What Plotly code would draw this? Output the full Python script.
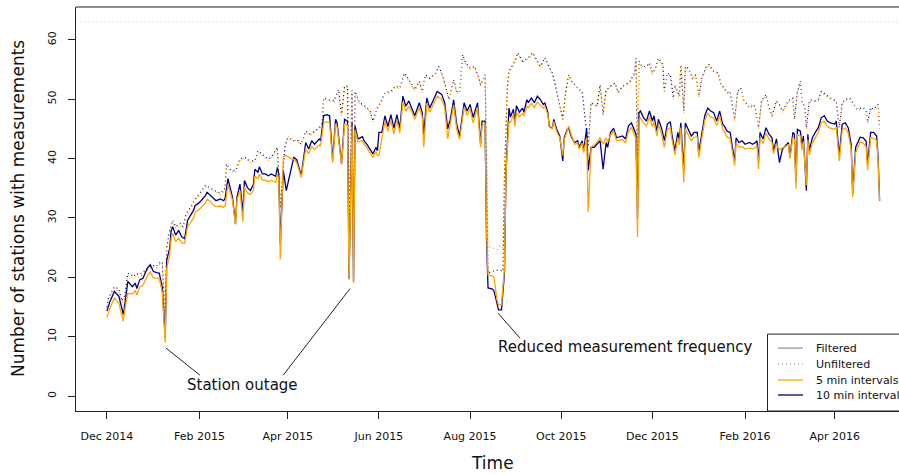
import pandas as pd
import plotly.graph_objects as go

# ---------------- data ----------------
start_date = "2014-12-01"

# day offsets (from 1 Dec 2014) for the filtered series
days_filtered = [
    0, 2, 5, 8, 11, 12, 14, 17, 19, 20, 22, 24, 27, 29, 31, 33, 35, 37, 39, 40,
    41, 42, 43, 44, 46, 48, 50, 52, 54, 56, 58, 59, 61, 63, 66, 67, 69, 71, 73, 76,
    78, 79, 81, 82, 84, 86, 87, 89, 91, 92, 94, 96, 98, 99, 100, 101, 102, 104, 106, 108,
    110, 113, 114, 115, 116, 118, 120, 123, 125, 127, 130, 133, 135, 137, 139, 142, 143, 145, 147, 149,
    151, 153, 154, 157, 159, 161, 162, 164, 165, 166, 168, 171, 172, 174, 176, 178, 180, 181, 182, 184,
    186, 188, 190, 192, 194, 196, 198, 200, 202, 204, 206, 209, 211, 212, 214, 216, 218, 221, 224, 226,
    228, 230, 232, 234, 236, 239, 241, 243, 245, 248, 250, 251, 253, 254, 255, 258, 259, 261, 262, 264,
    266, 267, 269, 270, 272, 273, 274, 276, 278, 279, 281, 282, 284, 286, 288, 290, 292, 293, 295, 296,
    298, 299, 301, 303, 305, 306, 308, 309, 311, 313, 315, 316, 318, 319, 321, 322, 324, 326, 328, 330,
    332, 334, 335, 337, 339, 341, 345, 347, 349, 351, 354, 355, 356, 357, 359, 361, 363, 365, 366, 368,
    369, 371, 373, 375, 377, 378, 380, 382, 383, 384, 386, 387, 389, 391, 393, 395, 396, 398, 400, 402,
    404, 406, 408, 410, 412, 413, 415, 417, 420, 421, 423, 425, 427, 430, 432, 434, 435, 436, 437, 439,
    441, 443, 445, 446, 448, 449, 450, 452, 454, 456, 457, 459, 460, 461, 462, 464, 465, 466, 468, 469,
    470, 472, 474, 476, 478, 480, 482, 484, 487, 488, 490, 492, 494, 496, 498, 499, 501, 504, 506, 508,
    509, 511, 513, 515, 516, 517,
]

# filtered, 10 min intervals (navy)
filtered_10min = [
    14.3, 15.9, 17.6, 16.8, 13.7, 15.9, 19.3, 18.4, 19.0, 18.1, 19.6, 19.8, 21.5, 22.1, 21.0, 20.8, 20.7, 18.4, 9.8, 22.9,
    24.0, 24.9, 27.9, 28.5, 27.1, 27.9, 26.8, 26.5, 29.6, 30.4, 31.3, 32.1, 32.4, 32.9, 33.8, 34.3, 33.8, 33.3, 32.9, 33.2,
    32.9, 33.2, 36.6, 35.5, 33.5, 29.0, 33.5, 35.7, 31.0, 36.3, 35.1, 34.6, 35.6, 38.2, 38.0, 37.7, 38.6, 37.4, 37.4, 37.1,
    37.4, 37.0, 38.5, 37.4, 25.5, 38.0, 34.6, 38.0, 40.2, 39.8, 37.1, 42.7, 41.6, 43.0, 42.4, 43.3, 43.0, 47.2, 47.4, 47.2,
    39.8, 46.6, 46.0, 39.1, 46.6, 46.3, 19.8, 46.0, 19.3, 45.5, 43.3, 43.7, 43.0, 42.4, 41.6, 40.8, 41.9, 41.3, 44.4, 44.4,
    47.2, 45.4, 47.4, 45.1, 47.4, 45.1, 50.5, 48.8, 49.7, 48.6, 47.2, 49.4, 47.7, 44.0, 50.2, 48.5, 49.7, 51.3, 50.8, 49.4,
    45.0, 46.9, 49.9, 45.8, 43.8, 49.4, 48.0, 49.1, 46.9, 49.4, 42.5, 46.3, 46.3, 26.3, 18.2, 18.0, 17.7, 15.7, 14.5, 14.5,
    20.7, 37.5, 48.5, 47.0, 48.3, 46.0, 48.9, 47.8, 48.5, 47.8, 49.9, 49.4, 50.2, 49.4, 50.5, 49.9, 49.1, 49.4, 47.8, 45.4,
    45.1, 46.6, 44.9, 43.8, 39.6, 43.5, 44.9, 45.1, 43.5, 42.7, 43.0, 41.9, 43.0, 41.3, 45.1, 38.0, 41.9, 41.9, 42.4, 43.0,
    38.2, 42.7, 41.9, 44.4, 45.1, 43.5, 43.8, 43.3, 45.5, 46.0, 44.1, 30.0, 47.7, 48.0, 46.9, 46.3, 48.0, 46.3, 47.2, 44.6,
    46.6, 45.2, 43.0, 45.8, 46.2, 44.1, 41.3, 44.4, 43.0, 46.0, 38.0, 46.0, 44.9, 43.8, 44.4, 44.4, 41.0, 43.8, 47.2, 48.5,
    48.0, 47.7, 46.3, 48.0, 45.8, 45.5, 44.6, 44.4, 39.5, 43.5, 42.7, 43.0, 42.4, 42.7, 42.4, 42.7, 43.0, 39.5, 44.4, 43.3,
    45.2, 44.1, 43.5, 41.3, 43.3, 41.3, 39.3, 41.6, 42.2, 42.7, 40.2, 44.4, 44.1, 36.0, 44.9, 44.6, 42.1, 43.8, 34.6, 44.1,
    41.3, 43.5, 44.4, 45.2, 46.9, 47.2, 46.3, 46.0, 45.8, 46.3, 40.5, 45.8, 46.0, 45.2, 42.4, 34.0, 41.9, 43.6, 43.5, 42.9,
    39.0, 44.4, 44.4, 43.8, 40.2, 32.9,
]

# filtered, 5 min intervals (orange)
filtered_5min = [
    13.2, 14.8, 16.5, 15.6, 12.6, 14.6, 17.3, 17.2, 17.8, 17.0, 18.4, 18.6, 20.2, 20.9, 19.9, 19.8, 19.8, 17.5, 9.0, 21.5,
    23.0, 23.8, 26.6, 27.4, 26.0, 26.6, 25.8, 25.7, 28.6, 29.2, 30.0, 31.0, 31.3, 31.7, 32.6, 33.1, 32.8, 32.2, 31.9, 32.0,
    31.8, 32.0, 35.6, 34.6, 33.0, 28.9, 33.0, 34.6, 29.3, 35.2, 34.2, 34.0, 34.6, 37.0, 36.8, 36.6, 37.4, 36.4, 36.3, 36.1,
    36.3, 36.0, 37.4, 36.6, 23.0, 40.3, 40.5, 40.0, 39.9, 39.3, 36.8, 41.6, 40.8, 42.0, 41.5, 42.3, 42.1, 46.0, 46.2, 46.0,
    39.3, 45.8, 45.3, 39.0, 45.8, 45.6, 19.6, 45.5, 19.1, 44.8, 42.8, 43.0, 42.4, 41.8, 41.0, 40.2, 41.2, 40.5, 40.5, 43.4,
    46.3, 44.6, 46.5, 44.1, 46.4, 44.3, 49.5, 48.0, 48.8, 47.8, 46.6, 48.6, 47.0, 41.9, 49.3, 47.8, 49.0, 50.5, 50.0, 48.6,
    43.3, 46.0, 49.0, 45.0, 43.2, 48.6, 47.3, 48.4, 46.0, 48.6, 41.9, 45.5, 46.0, 28.0, 20.4, 20.2, 20.0, 16.2, 15.4, 15.4,
    21.5, 37.5, 46.3, 46.0, 47.5, 45.4, 47.8, 47.0, 47.6, 47.2, 48.8, 48.6, 49.3, 48.6, 49.5, 49.0, 48.5, 48.8, 47.4, 45.3,
    45.0, 46.2, 44.5, 43.5, 40.5, 43.2, 44.9, 45.5, 43.8, 42.4, 42.6, 41.6, 42.6, 41.0, 43.5, 31.0, 42.0, 42.2, 42.8, 43.5,
    42.4, 43.5, 42.8, 44.0, 44.6, 43.0, 43.2, 42.6, 44.6, 45.2, 43.3, 26.8, 46.5, 46.8, 46.0, 45.5, 47.0, 45.4, 46.2, 43.8,
    45.7, 44.3, 41.9, 44.9, 45.2, 43.3, 40.6, 43.5, 42.3, 45.2, 36.0, 45.0, 44.0, 43.0, 43.6, 43.6, 40.2, 43.0, 46.4, 47.6,
    47.0, 46.8, 45.5, 47.2, 45.0, 44.6, 43.6, 43.4, 38.8, 42.6, 41.9, 42.0, 41.6, 41.8, 41.6, 41.8, 42.2, 38.2, 43.5, 42.5,
    44.3, 43.3, 42.7, 40.8, 42.5, 41.8, 41.5, 41.8, 42.0, 42.4, 40.0, 43.6, 43.2, 34.9, 44.0, 43.8, 41.4, 42.9, 35.5, 43.2,
    40.6, 42.6, 43.5, 44.4, 46.0, 46.3, 45.4, 45.1, 44.9, 45.3, 39.6, 44.8, 45.1, 44.3, 41.5, 33.5, 41.0, 42.8, 42.6, 42.0,
    38.0, 43.5, 43.4, 43.0, 39.5, 32.9,
]

# day offsets for the unfiltered series
days_unfiltered = [
    0, 1, 5, 8, 10, 12, 14, 18, 19, 22, 27, 30, 33, 35, 37, 39, 40, 42, 44, 46,
    49, 51, 53, 56, 59, 62, 66, 69, 72, 76, 79, 80, 82, 86, 89, 92, 96, 99, 101, 105,
    108, 110, 114, 116, 119, 121, 125, 128, 130, 133, 136, 139, 142, 144, 145, 148, 152, 155, 157, 159,
    161, 162, 164, 165, 166, 169, 173, 176, 178, 181, 183, 186, 190, 193, 196, 199, 202, 204, 206, 209,
    211, 213, 216, 220, 222, 224, 226, 229, 232, 234, 236, 238, 240, 243, 246, 249, 250, 253, 254, 255,
    258, 261, 263, 265, 266, 268, 269, 271, 273, 275, 278, 280, 282, 285, 288, 290, 293, 296, 298, 300,
    302, 305, 307, 309, 311, 313, 316, 318, 320, 322, 324, 326, 328, 330, 332, 334, 336, 338, 340, 342,
    345, 347, 350, 353, 354, 355, 356, 358, 361, 363, 365, 367, 369, 372, 373, 375, 377, 379, 380, 383,
    384, 386, 387, 389, 392, 394, 396, 398, 401, 403, 406, 409, 411, 413, 415, 417, 420, 422, 424, 426,
    430, 433, 434, 436, 438, 441, 443, 445, 448, 450, 452, 454, 456, 459, 460, 462, 464, 465, 467, 468,
    470, 472, 474, 476, 478, 481, 484, 488, 490, 492, 494, 497, 499, 502, 506, 508, 509, 511, 513, 516,
    517,
]

# unfiltered, 10 min intervals (navy, dotted)
unfiltered_10min = [
    15.0, 16.5, 18.4, 18.0, 16.0, 17.0, 20.7, 20.1, 20.6, 20.4, 21.5, 22.1, 21.8, 22.4, 22.6, 13.0, 25.1, 27.9, 29.6, 28.5,
    29.1, 28.5, 30.7, 31.8, 33.2, 34.1, 35.5, 35.0, 34.6, 34.1, 35.0, 39.1, 38.2, 37.9, 39.9, 40.2, 39.6, 39.6, 41.3, 40.5,
    39.9, 40.2, 41.9, 32.0, 41.9, 43.5, 43.0, 43.0, 42.4, 44.6, 44.1, 44.6, 45.2, 46.0, 50.2, 49.9, 49.7, 51.6, 47.5, 52.2,
    52.2, 30.0, 51.5, 25.0, 51.3, 49.4, 48.8, 48.0, 46.3, 48.6, 49.4, 51.1, 51.3, 52.2, 51.9, 54.4, 53.3, 52.5, 51.6, 53.0,
    51.3, 54.1, 53.5, 54.4, 55.5, 54.4, 52.7, 49.9, 53.3, 51.3, 51.1, 57.5, 56.1, 55.2, 55.5, 53.5, 52.4, 54.1, 40.0, 20.7,
    21.0, 21.2, 21.2, 21.0, 37.0, 52.4, 54.7, 55.5, 56.4, 57.8, 56.4, 56.7, 57.0, 57.8, 56.4, 55.5, 57.0, 55.5, 54.4, 52.4,
    50.2, 46.6, 51.3, 54.1, 53.0, 52.4, 51.6, 51.3, 46.9, 42.0, 49.4, 49.1, 48.8, 52.4, 47.4, 51.6, 51.9, 52.4, 52.7, 51.1,
    52.2, 52.4, 53.0, 54.4, 56.9, 40.2, 56.4, 55.5, 55.5, 56.1, 54.4, 55.2, 56.9, 55.8, 51.3, 54.4, 54.1, 50.2, 52.4, 50.5,
    55.8, 48.0, 55.5, 55.2, 53.5, 54.1, 50.5, 53.5, 55.5, 55.8, 54.7, 54.4, 52.4, 51.9, 51.1, 51.3, 46.6, 51.3, 51.9, 49.9,
    48.6, 49.1, 48.3, 45.2, 49.7, 50.8, 48.6, 47.2, 49.7, 49.1, 48.0, 48.9, 49.7, 50.2, 46.6, 51.3, 53.0, 49.7, 48.6, 45.2,
    49.7, 49.9, 49.7, 49.9, 51.3, 50.8, 50.2, 49.7, 45.2, 49.4, 49.9, 50.2, 49.4, 48.3, 48.6, 48.0, 46.1, 48.6, 48.3, 49.1,
    45.2,
]

# unfiltered, 5 min intervals (orange, dotted)
unfiltered_5min = [
    14.6, 16.2, 18.0, 17.6, 15.6, 16.7, 20.3, 19.8, 20.2, 20.0, 21.2, 21.9, 21.5, 22.1, 22.3, 12.5, 24.8, 27.6, 29.3, 28.2,
    28.8, 28.2, 30.4, 31.5, 33.0, 33.8, 35.2, 34.8, 34.3, 33.9, 34.7, 38.8, 38.0, 37.6, 39.6, 40.0, 39.3, 39.4, 41.0, 40.3,
    39.7, 40.0, 41.6, 31.5, 41.7, 43.7, 43.2, 42.8, 42.2, 44.4, 43.9, 44.4, 45.0, 45.8, 50.0, 49.7, 49.5, 51.4, 47.2, 52.0,
    52.0, 29.5, 51.3, 24.5, 51.1, 49.2, 48.6, 47.8, 46.1, 48.4, 49.2, 50.9, 51.1, 52.0, 51.7, 54.2, 53.1, 52.3, 51.4, 52.8,
    51.1, 53.9, 53.3, 54.2, 55.3, 54.2, 52.5, 49.7, 53.1, 51.1, 50.9, 57.3, 55.9, 55.0, 55.3, 53.3, 52.2, 53.9, 42.0, 25.1,
    25.0, 24.6, 25.4, 25.0, 38.0, 52.0, 54.5, 55.3, 56.2, 57.6, 56.2, 56.5, 56.8, 57.6, 56.2, 55.3, 56.8, 55.3, 54.2, 52.2,
    50.0, 46.4, 51.1, 54.1, 53.0, 52.4, 51.6, 51.3, 46.9, 41.5, 49.4, 49.1, 48.8, 52.4, 47.4, 51.6, 51.9, 52.4, 52.7, 51.1,
    52.0, 52.2, 52.8, 54.2, 56.7, 39.8, 56.2, 55.3, 55.3, 55.9, 54.2, 55.0, 56.7, 55.6, 51.1, 54.2, 53.9, 50.0, 52.2, 50.3,
    55.6, 47.6, 55.3, 55.0, 53.3, 53.9, 50.3, 53.3, 55.3, 55.6, 54.5, 54.2, 52.2, 51.7, 50.9, 51.1, 46.4, 51.1, 51.7, 49.7,
    48.4, 48.9, 48.1, 45.0, 49.5, 50.6, 48.4, 47.0, 49.5, 48.9, 47.8, 48.7, 49.5, 50.0, 46.4, 51.1, 52.8, 49.5, 48.4, 45.0,
    49.5, 49.7, 49.5, 49.7, 51.1, 50.6, 50.0, 49.5, 45.0, 49.2, 49.7, 50.0, 49.2, 48.1, 48.4, 47.8, 45.9, 48.4, 48.1, 48.9,
    45.0,
]

total_stations = 63

tick_dates = ["2014-12-01", "2015-02-01", "2015-04-01", "2015-06-01", "2015-08-01",
              "2015-10-01", "2015-12-01", "2016-02-01", "2016-04-01"]
tick_labels = ["Dec 2014", "Feb 2015", "Apr 2015", "Jun 2015", "Aug 2015",
               "Oct 2015", "Dec 2015", "Feb 2016", "Apr 2016"]
y_ticks = [0, 10, 20, 30, 40, 50, 60]

legend_labels = ["Filtered", "Unfiltered", "5 min intervals", "10 min intervals"]

# annotation anchors (day offset, value)
outage_text = (90.4, 1.85)
outage_lines = [((39.5, 8.07), (62.2, 3.53)), ((118.0, 3.53), (162.7, 18.1))]
reduced_text = (346.7, 8.24)
reduced_line = ((261.7, 13.96), (276.4, 9.76))

# ---------------- figure ----------------
t0 = pd.Timestamp(start_date)


def to_date(d):
    return t0 + pd.to_timedelta(d, unit="D")


x_f = [to_date(d) for d in days_filtered]
x_u = [to_date(d) for d in days_unfiltered]

ORANGE = "#FFA500"
NAVY = "#000080"
FONT = "DejaVu Sans"
DOTS = "1px,3px"

fig = go.Figure()
fig.add_trace(go.Scatter(x=x_u, y=unfiltered_10min, mode="lines",
                         line=dict(color=NAVY, width=1.2, dash=DOTS), showlegend=False))
fig.add_trace(go.Scatter(x=x_u, y=unfiltered_5min, mode="lines",
                         line=dict(color=ORANGE, width=1.2, dash=DOTS), showlegend=False))
fig.add_trace(go.Scatter(x=x_f, y=filtered_10min, mode="lines",
                         line=dict(color=NAVY, width=1.3), showlegend=False))
fig.add_trace(go.Scatter(x=x_f, y=filtered_5min, mode="lines",
                         line=dict(color=ORANGE, width=1.3), showlegend=False))

L, R, T, B = 76, 0, 6.5, 64
W, H = 899, 475
plot_w = W - L - R
plot_h = H - T - B

x_min = to_date(-20.7)
x_max = to_date(-20.7 + plot_w / 1.4945)

shapes = []
# total number of stations
shapes.append(dict(type="line", xref="paper", yref="y", x0=0, x1=1, y0=total_stations, y1=total_stations,
                   line=dict(color="#d4d4d4", width=1, dash=DOTS)))
# top border of box
shapes.append(dict(type="line", xref="paper", yref="paper", x0=0, x1=1.02, y0=1, y1=1,
                   line=dict(color="#222", width=1)))

for (a, b) in outage_lines + [reduced_line]:
    shapes.append(dict(type="line", xref="x", yref="y", x0=to_date(a[0]), y0=a[1],
                       x1=to_date(b[0]), y1=b[1], line=dict(color="#222", width=1)))


def px_x(px):
    return (px - L) / plot_w


def px_y(py):
    return (H - B - py) / plot_h


# legend box
shapes.append(dict(type="rect", xref="paper", yref="paper", x0=px_x(767.5), x1=px_x(915),
                   y0=px_y(411), y1=px_y(334), line=dict(color="#222", width=1), fillcolor="white"))
legend_rows = [348, 364, 380, 395]
legend_styles = [("#9a9a9a", "solid"), ("#9a9a9a", DOTS), (ORANGE, "solid"), (NAVY, "solid")]
annotations = []
for lab, ry, (col, dash) in zip(legend_labels, legend_rows, legend_styles):
    shapes.append(dict(type="line", xref="paper", yref="paper", x0=px_x(778), x1=px_x(803),
                       y0=px_y(ry), y1=px_y(ry), line=dict(color=col, width=1.3, dash=dash)))
    annotations.append(dict(xref="paper", yref="paper", x=px_x(814), y=px_y(ry), text=lab,
                            showarrow=False, xanchor="left", yanchor="middle",
                            font=dict(family=FONT, size=11, color="#111")))

annotations.append(dict(xref="x", yref="y", x=to_date(outage_text[0]), y=outage_text[1],
                        text="Station outage", showarrow=False, xanchor="center", yanchor="middle",
                        font=dict(family=FONT, size=15, color="#111")))
annotations.append(dict(xref="x", yref="y", x=to_date(reduced_text[0]), y=reduced_text[1],
                        text="Reduced measurement frequency", showarrow=False, xanchor="center",
                        yanchor="middle", font=dict(family=FONT, size=15, color="#111")))
# axis titles
annotations.append(dict(xref="paper", yref="paper", x=px_x(493), y=px_y(463), text="Time",
                        showarrow=False, xanchor="center", yanchor="middle",
                        font=dict(family=FONT, size=17, color="#111")))
annotations.append(dict(xref="paper", yref="paper", x=px_x(18), y=0.5,
                        text="Number of stations with measurements", textangle=-90,
                        showarrow=False, xanchor="center", yanchor="middle",
                        font=dict(family=FONT, size=17, color="#111")))

fig.update_layout(
    width=W, height=H, autosize=False,
    margin=dict(l=L, r=R, t=T, b=B, pad=0),
    plot_bgcolor="white", paper_bgcolor="white",
    shapes=shapes, annotations=annotations,
    font=dict(family=FONT, color="#111"),
)
fig.update_xaxes(range=[x_min, x_max], tickvals=[pd.Timestamp(d) for d in tick_dates], ticktext=tick_labels,
                 showgrid=False, zeroline=False, showline=True, linecolor="#222", linewidth=1,
                 ticks="outside", ticklen=7, tickcolor="#222", tickwidth=1,
                 tickfont=dict(family=FONT, size=11, color="#111"), ticklabelstandoff=8)
fig.update_yaxes(range=[-2.52, 65.52], tickvals=y_ticks, ticktext=[str(v) for v in y_ticks],
                 showgrid=False, zeroline=False, showline=True, linecolor="#222", linewidth=1,
                 ticks="outside", ticklen=7, tickcolor="#222", tickwidth=1, tickangle=-90,
                 tickfont=dict(family=FONT, size=11, color="#111"), ticklabelstandoff=8)

fig.write_html("out.html", config={"displayModeBar": False},
               post_script="document.body.style.margin='0';document.body.style.padding='0';"
                           "document.body.style.overflow='hidden';")
